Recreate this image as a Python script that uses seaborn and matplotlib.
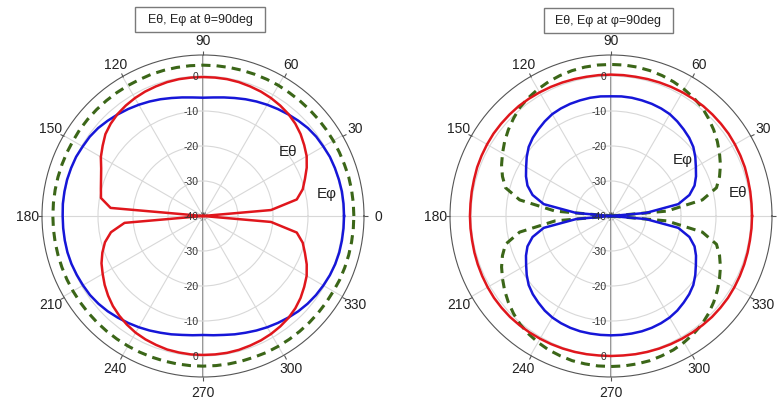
import numpy as np
import pandas as pd
import matplotlib
matplotlib.use("Agg")
import matplotlib.pyplot as plt
from matplotlib.patches import Rectangle
import seaborn as sns

plt.rcParams['font.family'] = ['Liberation Sans', 'DejaVu Sans']

# ---------------- data (dB), angles every 5 deg from 0 to 360 ----------------
angles_deg = list(range(0, 361, 5))

# Left panel: cut at theta = 90 deg
left_Etheta = [-40, -20.5, -12.8, -10.5, -9.0, -7.3, -5.8, -4.7, -3.6, -2.7, -2.0, -1.5, -1.1, -0.8, -0.6, -0.4, -0.3, -0.3, -0.3,
               -0.3, -0.3, -0.4, -0.6, -0.8, -1.1, -1.5, -2.0, -2.7, -3.6, -5.0, -6.3, -7.9, -9.0, -9.8, -10.4, -13.5, -40,
               -17.5, -13.3, -11.0, -9.4, -8.0, -6.9, -5.7, -4.6, -3.6, -2.8, -2.1, -1.5, -1.1, -0.8, -0.5, -0.4, -0.3, -0.3,
               -0.3, -0.3, -0.4, -0.6, -0.8, -1.1, -1.5, -2.0, -2.7, -3.6, -4.7, -5.8, -7.3, -9.0, -10.5, -12.8, -20.5, -40]
left_Ephi = [0.3, 0.3, 0.3, 0.2, 0.1, 0.0, -0.3, -0.5, -0.9, -1.5, -2.1, -2.7, -3.3, -3.9, -4.5, -5.1, -5.6, -6.0, -6.2,
             -6.0, -5.6, -5.1, -4.5, -3.9, -3.3, -2.7, -2.1, -1.5, -0.9, -0.5, -0.3, 0.0, 0.1, 0.2, 0.2, 0.2, 0.1,
             0.1, 0.1, 0.1, 0.0, -0.2, -0.4, -0.6, -1.0, -1.5, -2.1, -2.7, -3.3, -3.9, -4.5, -5.0, -5.5, -5.8, -6.0,
             -5.8, -5.5, -5.0, -4.5, -3.9, -3.3, -2.7, -2.1, -1.5, -1.0, -0.6, -0.3, 0.0, 0.2, 0.3, 0.3, 0.3, 0.3]
left_Etotal = [3.1, 3.1, 3.1, 3.1, 3.0, 3.0, 3.0, 3.0, 3.0, 3.0, 3.0, 3.0, 3.1, 3.1, 3.1, 3.1, 3.1, 3.1, 3.1,
               3.1, 3.1, 3.1, 3.1, 3.0, 3.0, 3.0, 3.0, 3.0, 3.0, 3.0, 2.9, 2.9, 2.9, 2.9, 2.9, 2.9, 2.9,
               2.9, 2.9, 2.9, 2.9, 2.9, 2.9, 2.9, 2.9, 2.9, 2.9, 2.9, 2.9, 2.9, 2.9, 2.9, 2.9, 2.9, 2.9,
               2.9, 2.9, 2.9, 2.9, 3.0, 3.0, 3.0, 3.0, 3.0, 3.0, 3.0, 3.0, 3.1, 3.1, 3.1, 3.1, 3.1, 3.1]

# Right panel: cut at phi = 90 deg
right_Etheta = [0.3, 0.3, 0.4, 0.5, 0.7, 0.8, 0.9, 1.0, 1.0, 1.0, 1.0, 0.9, 0.8, 0.7, 0.6, 0.5, 0.4, 0.4, 0.4,
                0.4, 0.4, 0.5, 0.6, 0.7, 0.8, 0.9, 1.0, 1.0, 1.0, 1.0, 0.9, 0.8, 0.7, 0.5, 0.4, 0.3, 0.3,
                0.3, 0.3, 0.4, 0.5, 0.6, 0.7, 0.8, 0.8, 0.8, 0.7, 0.6, 0.5, 0.4, 0.3, 0.2, 0.1, 0.0, 0.0,
                0.0, 0.1, 0.2, 0.3, 0.4, 0.5, 0.6, 0.7, 0.8, 0.8, 0.8, 0.7, 0.6, 0.5, 0.4, 0.3, 0.3, 0.3]
right_Ephi = [-40, -30, -20.5, -16.8, -14.6, -13.2, -12.0, -10.6, -9.3, -8.4, -7.7, -7.0, -6.4, -6.1, -5.9, -5.8, -5.7, -5.7, -5.8,
              -5.7, -5.7, -5.8, -5.9, -6.1, -6.4, -7.0, -7.7, -8.4, -9.3, -10.6, -12.0, -13.2, -14.6, -16.8, -20.5, -30, -40,
              -30, -20.5, -16.8, -14.6, -13.2, -12.0, -10.6, -9.3, -8.4, -7.7, -7.0, -6.5, -6.2, -6.0, -5.9, -5.9, -5.9, -5.9,
              -5.9, -5.9, -5.9, -6.0, -6.2, -6.5, -7.0, -7.7, -8.4, -9.3, -10.6, -12.0, -13.2, -14.6, -16.8, -20.5, -30, -40]
right_Etotal = [-40, -24, -13.5, -8.8, -7.0, -5.5, -4.2, -2.9, -1.7, -0.6, 0.5, 1.2, 1.8, 2.3, 2.7, 3.0, 3.2, 3.3, 3.3,
                3.3, 3.2, 3.0, 2.7, 2.3, 1.8, 1.2, 0.5, -0.6, -1.7, -2.9, -4.2, -5.5, -7.0, -8.8, -13.5, -24, -40,
                -24, -13.5, -8.8, -7.0, -5.5, -4.2, -2.9, -1.7, -0.6, 0.4, 1.1, 1.7, 2.2, 2.5, 2.8, 2.9, 3.0, 3.0,
                3.0, 2.9, 2.8, 2.5, 2.2, 1.7, 1.1, 0.4, -0.6, -1.7, -2.9, -4.2, -5.5, -7.0, -8.8, -13.5, -24, -40]

angle_ticks = list(range(0, 360, 30))
radial_ticks = [0, -10, -20, -30, -40]
titles = ["E\u03b8, E\u03c6 at \u03b8=90deg", "E\u03b8, E\u03c6 at \u03c6=90deg"]

RED = "#e0161c"
BLUE = "#1616d8"
GREEN = "#3b6618"

W, H = 783, 402
fig = plt.figure(figsize=(W / 100, H / 100), dpi=100)

def px_axes(cx, cy, R):
    return [(cx - R) / W, (H - cy - R) / H, 2 * R / W, 2 * R / H]

panels = [
    dict(center=(203, 217), et=left_Etheta, ep=left_Ephi, tot=left_Etotal, title=titles[0],
         tcenter=(200, 20), twidth=130,
         labels=[("E\u03b8", 288, 152), ("E\u03c6", 327, 194)]),
    dict(center=(611, 217), et=right_Etheta, ep=right_Ephi, tot=right_Etotal, title=titles[1],
         tcenter=(608, 21), twidth=129,
         labels=[("E\u03c6", 683, 160), ("E\u03b8", 738, 193)]),
]

for p in panels:
    ax = fig.add_axes(px_axes(p["center"][0], p["center"][1], 161), projection="polar")
    df = pd.DataFrame({
        "theta": np.deg2rad(angles_deg),
        "Etheta": p["et"], "Ephi": p["ep"], "Etot": p["tot"],
    })
    sns.lineplot(data=df, x="theta", y="Etot", ax=ax, sort=False, color=GREEN,
                 linewidth=2.2, linestyle=(0, (3.0, 2.0)), estimator=None)
    sns.lineplot(data=df, x="theta", y="Ephi", ax=ax, sort=False, color=BLUE,
                 linewidth=1.8, estimator=None)
    sns.lineplot(data=df, x="theta", y="Etheta", ax=ax, sort=False, color=RED,
                 linewidth=1.8, estimator=None)
    ax.set_xlabel("")
    ax.set_ylabel("")
    ax.set_ylim(-40, 6)
    ax.set_thetagrids(angle_ticks, [str(a) for a in angle_ticks], fontsize=10, color="#222222")
    ax.tick_params(axis="x", pad=0.5, length=3, direction="out", color="#555555",
                   tick1On=True, tick2On=True)
    ax.set_yticks([-30, -20, -10, 0])
    ax.set_yticklabels([])
    ax.grid(True, color="#d8d8d8", linewidth=0.8)
    ax.spines["polar"].set_color("#555555")
    ax.spines["polar"].set_linewidth(0.8)
    ax.axvline(np.pi / 2, color="#8a8a8a", linewidth=1.3, zorder=1)
    ax.axvline(3 * np.pi / 2, color="#8a8a8a", linewidth=1.3, zorder=1)
    for r in radial_ticks:
        for th in (np.pi / 2, 3 * np.pi / 2):
            if r == -40 and th > np.pi:
                continue
            ax.annotate(str(r), xy=(th, r), xytext=(-3, 0), textcoords="offset points",
                        ha="right", va="center", fontsize=7.5, color="#333333", zorder=5)
    for txt, x, y in p["labels"]:
        fig.text(x / W, 1 - y / H, txt, ha="center", va="center", fontsize=11, color="#222222")
    tx, ty = p["tcenter"]
    tw, th_ = p["twidth"], 25
    fig.add_artist(Rectangle(((tx - tw / 2) / W, 1 - (ty + th_ / 2) / H), tw / W, th_ / H,
                             transform=fig.transFigure, fill=True, fc="white",
                             ec="#7a7a7a", lw=1.0))
    fig.text(tx / W, 1 - ty / H, p["title"], ha="center", va="center", fontsize=9, color="#222222")

fig.savefig("out.png", dpi=100)
